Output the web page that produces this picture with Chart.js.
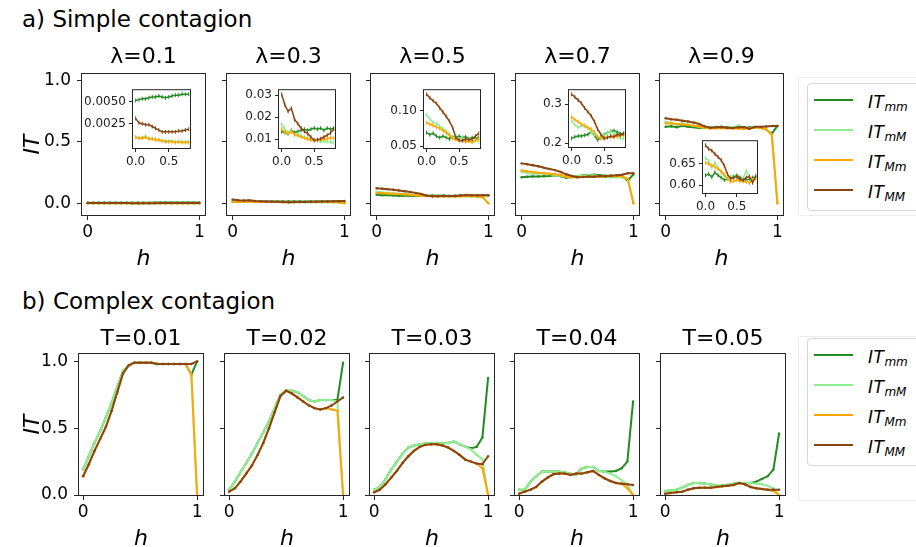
<!DOCTYPE html>
<html>
<head>
<meta charset="utf-8">
<script src="https://cdn.jsdelivr.net/npm/chart.js@4.4.1/dist/chart.umd.min.js"></script>
<style>
  body { margin: 0; width: 916px; height: 547px; overflow: hidden; position: relative; background: #fff; font-family: 'DejaVu Sans', sans-serif; color: #000; }
  canvas { position: absolute; }
  .head { position: absolute; left: 22px; font-size: 23px; line-height: 23px; white-space: nowrap; }
  .ghost { position: absolute; left: 798px; width: 140px; border: 1px solid #ededed; }
  .legend { position: absolute; left: 807px; width: 140px; height: 126px; border: 1px solid #d6d6d6; border-radius: 4px; background: #fff; }
  .sw { position: absolute; left: 6px; width: 39px; height: 2px; }
  .lab { position: absolute; left: 60px; font-size: 17px; line-height: 17px; white-space: nowrap; font-style: italic; letter-spacing: 0.5px; }
  .lab sub { font-size: 12px; vertical-align: baseline; position: relative; top: 3px; letter-spacing: 0; }
</style>
</head>
<body>
<div class="head" style="top:8px">a) Simple contagion</div>
<div class="head" style="top:290px">b) Complex contagion</div>
<script>
/* ---- data ---- */

const h = [0, 0.05, 0.1, 0.15, 0.2, 0.25, 0.3, 0.35, 0.4, 0.45, 0.5, 0.55, 0.6, 0.65, 0.7, 0.75, 0.8, 0.85, 0.9, 0.95, 1];

const seriesKeys = ['mm', 'mM', 'Mm', 'MM'];
const simpleTitles = ['λ=0.1', 'λ=0.3', 'λ=0.5', 'λ=0.7', 'λ=0.9'];
const complexTitles = ['T=0.01', 'T=0.02', 'T=0.03', 'T=0.04', 'T=0.05'];

const mainYTicks = [0, 0.5, 1];
const mainXTicks = [0, 1];
const insetXTicks = [0, 0.5];
const insetYTicks = [[0.0025, 0.005], [0.01, 0.02, 0.03], [0.05, 0.1], [0.2, 0.3], [0.6, 0.65]];
const insetYDecimals = [4, 2, 2, 1, 2];

// a) simple contagion, lambda = 0.1 ... 0.9
const a1_mm = [0.0051, 0.0052, 0.0053, 0.0053, 0.0054, 0.0055, 0.0055, 0.0056, 0.0055, 0.0054, 0.0055, 0.0056, 0.0057, 0.0057, 0.0058, 0.0058, 0.0058, 0.0058, 0.0059, 0.0059, 0.0060];
const a1_mM = [0.0010, 0.0009, 0.0010, 0.0011, 0.0009, 0.0008, 0.0008, 0.0007, 0.0006, 0.0006, 0.0006, 0.0006, 0.0005, 0.0005, 0.0005, 0.0005, 0.0005, 0.0005, 0.0004, 0.0003, 0];
const a1_Mm = [0.0010, 0.0009, 0.0009, 0.0010, 0.0008, 0.0008, 0.0007, 0.0007, 0.0006, 0.0005, 0.0005, 0.0005, 0.0004, 0.0005, 0.0004, 0.0004, 0.0004, 0.0004, 0.0004, 0.0003, 0];
const a1_MM = [0.0031, 0.0026, 0.0025, 0.0024, 0.0024, 0.0022, 0.0020, 0.0018, 0.0016, 0.0016, 0.0016, 0.0016, 0.0016, 0.0017, 0.0017, 0.0018, 0.0019, 0.0019, 0.0020, 0.0020, 0.0021];

const a2_mm = [0.0135, 0.0130, 0.0125, 0.0140, 0.0130, 0.0135, 0.0140, 0.0145, 0.0140, 0.0145, 0.0150, 0.0145, 0.0150, 0.0140, 0.0150, 0.0145, 0.0150, 0.0150, 0.0150, 0.0150, 0.0160];
const a2_mM = [0.0168, 0.0145, 0.0130, 0.0135, 0.0120, 0.0125, 0.0115, 0.0110, 0.0105, 0.0100, 0.0095, 0.0095, 0.0090, 0.0090, 0.0088, 0.0087, 0.0085, 0.0082, 0.0080, 0.0070, 0];
const a2_Mm = [0.0146, 0.0130, 0.0125, 0.0135, 0.0120, 0.0116, 0.0110, 0.0105, 0.0100, 0.0096, 0.0094, 0.0095, 0.0098, 0.0100, 0.0102, 0.0106, 0.0104, 0.0100, 0.0095, 0.0085, 0];
const a2_MM = [0.0304, 0.0255, 0.0226, 0.0240, 0.0189, 0.0170, 0.0150, 0.0135, 0.0125, 0.0110, 0.0095, 0.0098, 0.0102, 0.0110, 0.0118, 0.0128, 0.0146, 0.0155, 0.0165, 0.0175, 0.0185];

const a3_mm = [0.069, 0.066, 0.068, 0.064, 0.062, 0.064, 0.062, 0.060, 0.063, 0.062, 0.064, 0.062, 0.063, 0.060, 0.062, 0.061, 0.062, 0.062, 0.062, 0.063, 0.065];
const a3_mM = [0.094, 0.088, 0.083, 0.082, 0.078, 0.075, 0.071, 0.067, 0.063, 0.061, 0.060, 0.062, 0.058, 0.061, 0.057, 0.059, 0.056, 0.058, 0.056, 0.052, 0];
const a3_Mm = [0.083, 0.081, 0.079, 0.077, 0.075, 0.072, 0.069, 0.065, 0.061, 0.059, 0.058, 0.057, 0.056, 0.057, 0.055, 0.058, 0.060, 0.058, 0.056, 0.048, 0];
const a3_MM = [0.123, 0.118, 0.114, 0.110, 0.104, 0.098, 0.092, 0.085, 0.076, 0.062, 0.058, 0.058, 0.060, 0.059, 0.060, 0.064, 0.068, 0.066, 0.066, 0.066, 0.066];

const a4_mm = [0.212, 0.216, 0.218, 0.218, 0.220, 0.222, 0.229, 0.220, 0.208, 0.214, 0.222, 0.226, 0.230, 0.232, 0.228, 0.224, 0.225, 0.222, 0.218, 0.185, 0.235];
const a4_mM = [0.257, 0.247, 0.240, 0.245, 0.243, 0.238, 0.229, 0.222, 0.216, 0.214, 0.220, 0.225, 0.229, 0.226, 0.220, 0.212, 0.212, 0.214, 0.212, 0.195, 0];
const a4_Mm = [0.267, 0.260, 0.255, 0.248, 0.245, 0.240, 0.236, 0.228, 0.216, 0.212, 0.212, 0.216, 0.215, 0.218, 0.216, 0.220, 0.220, 0.222, 0.218, 0.200, 0];
const a4_MM = [0.325, 0.318, 0.310, 0.302, 0.290, 0.280, 0.270, 0.255, 0.236, 0.222, 0.212, 0.214, 0.218, 0.216, 0.222, 0.220, 0.224, 0.228, 0.232, 0.245, 0.245];

const a5_mm = [0.623, 0.626, 0.619, 0.630, 0.623, 0.618, 0.612, 0.615, 0.619, 0.620, 0.623, 0.618, 0.614, 0.612, 0.615, 0.618, 0.618, 0.615, 0.600, 0.565, 0.630];
const a5_mM = [0.663, 0.656, 0.641, 0.652, 0.640, 0.630, 0.620, 0.615, 0.620, 0.623, 0.618, 0.612, 0.616, 0.634, 0.620, 0.612, 0.618, 0.615, 0.600, 0.560, 0];
const a5_Mm = [0.652, 0.649, 0.646, 0.642, 0.638, 0.632, 0.625, 0.615, 0.608, 0.610, 0.612, 0.610, 0.609, 0.608, 0.605, 0.612, 0.615, 0.615, 0.600, 0.557, 0];
const a5_MM = [0.692, 0.684, 0.680, 0.672, 0.665, 0.658, 0.645, 0.626, 0.615, 0.618, 0.620, 0.614, 0.612, 0.618, 0.620, 0.606, 0.622, 0.622, 0.625, 0.628, 0.630];

// b) complex contagion, T = 0.01 ... 0.05
const b1_mm = [0.19, 0.29, 0.39, 0.48, 0.58, 0.69, 0.81, 0.93, 0.97, 0.99, 0.99, 0.99, 0.99, 0.98, 0.98, 0.98, 0.98, 0.98, 0.98, 0.90, 1.00];
const b1_mM = [0.19, 0.29, 0.39, 0.48, 0.58, 0.69, 0.81, 0.93, 0.97, 0.99, 0.99, 0.99, 0.99, 0.98, 0.98, 0.98, 0.98, 0.98, 0.98, 0.90, 0];
const b1_Mm = [0.14, 0.23, 0.33, 0.42, 0.51, 0.63, 0.77, 0.91, 0.97, 0.99, 0.99, 0.99, 0.99, 0.98, 0.98, 0.98, 0.98, 0.98, 0.98, 0.90, 0];
const b1_MM = [0.14, 0.23, 0.33, 0.42, 0.51, 0.63, 0.77, 0.91, 0.97, 0.99, 0.99, 0.99, 0.99, 0.98, 0.98, 0.98, 0.98, 0.98, 0.98, 0.98, 1.00];

const b2_mm = [0.04, 0.10, 0.17, 0.24, 0.31, 0.39, 0.47, 0.55, 0.65, 0.75, 0.78, 0.78, 0.77, 0.74, 0.71, 0.70, 0.71, 0.71, 0.71, 0.71, 0.99];
const b2_mM = [0.04, 0.10, 0.17, 0.24, 0.31, 0.39, 0.47, 0.55, 0.65, 0.75, 0.78, 0.78, 0.77, 0.74, 0.71, 0.70, 0.71, 0.71, 0.71, 0.70, 0];
const b2_Mm = [0.025, 0.05, 0.10, 0.16, 0.22, 0.30, 0.39, 0.50, 0.62, 0.74, 0.78, 0.76, 0.73, 0.70, 0.67, 0.65, 0.64, 0.65, 0.64, 0.63, 0];
const b2_MM = [0.025, 0.05, 0.10, 0.16, 0.22, 0.30, 0.39, 0.50, 0.62, 0.74, 0.78, 0.76, 0.73, 0.70, 0.67, 0.65, 0.64, 0.65, 0.67, 0.70, 0.73];

const b3_mm = [0.04, 0.06, 0.12, 0.19, 0.25, 0.31, 0.355, 0.37, 0.38, 0.385, 0.39, 0.39, 0.385, 0.39, 0.40, 0.38, 0.36, 0.35, 0.36, 0.43, 0.875];
const b3_mM = [0.04, 0.06, 0.12, 0.19, 0.25, 0.31, 0.355, 0.37, 0.38, 0.385, 0.39, 0.39, 0.385, 0.39, 0.40, 0.38, 0.36, 0.34, 0.30, 0.27, 0];
const b3_Mm = [0.02, 0.04, 0.08, 0.13, 0.18, 0.24, 0.29, 0.33, 0.36, 0.375, 0.38, 0.38, 0.37, 0.355, 0.33, 0.30, 0.265, 0.25, 0.235, 0.20, 0];
const b3_MM = [0.02, 0.04, 0.08, 0.13, 0.18, 0.24, 0.29, 0.33, 0.36, 0.375, 0.38, 0.38, 0.37, 0.355, 0.33, 0.30, 0.265, 0.25, 0.235, 0.23, 0.29];

const b4_mm = [0.04, 0.04, 0.10, 0.14, 0.175, 0.175, 0.175, 0.175, 0.17, 0.16, 0.15, 0.20, 0.21, 0.21, 0.18, 0.175, 0.175, 0.18, 0.20, 0.25, 0.70];
const b4_mM = [0.04, 0.04, 0.10, 0.14, 0.175, 0.175, 0.175, 0.175, 0.17, 0.16, 0.15, 0.20, 0.21, 0.21, 0.18, 0.175, 0.16, 0.14, 0.11, 0.08, 0];
const b4_Mm = [0.01, 0.025, 0.04, 0.06, 0.10, 0.13, 0.155, 0.16, 0.16, 0.15, 0.16, 0.16, 0.17, 0.18, 0.15, 0.125, 0.105, 0.09, 0.085, 0.05, 0];
const b4_MM = [0.01, 0.025, 0.04, 0.06, 0.10, 0.13, 0.155, 0.16, 0.16, 0.15, 0.16, 0.16, 0.17, 0.18, 0.15, 0.125, 0.105, 0.09, 0.085, 0.08, 0.075];

const b5_mm = [0.03, 0.035, 0.04, 0.055, 0.075, 0.09, 0.09, 0.085, 0.08, 0.07, 0.07, 0.075, 0.085, 0.09, 0.09, 0.09, 0.10, 0.12, 0.14, 0.19, 0.46];
const b5_mM = [0.03, 0.035, 0.04, 0.055, 0.075, 0.09, 0.09, 0.085, 0.08, 0.07, 0.07, 0.075, 0.085, 0.09, 0.09, 0.09, 0.085, 0.08, 0.07, 0.05, 0];
const b5_Mm = [0.01, 0.015, 0.02, 0.025, 0.04, 0.05, 0.055, 0.055, 0.055, 0.06, 0.065, 0.07, 0.075, 0.09, 0.08, 0.06, 0.05, 0.045, 0.04, 0.03, 0];
const b5_MM = [0.01, 0.015, 0.02, 0.025, 0.04, 0.05, 0.055, 0.055, 0.055, 0.06, 0.065, 0.07, 0.075, 0.09, 0.08, 0.06, 0.05, 0.045, 0.04, 0.04, 0.04];

const simpleSeries = [
    [a1_mm, a1_mM, a1_Mm, a1_MM],
    [a2_mm, a2_mM, a2_Mm, a2_MM],
    [a3_mm, a3_mM, a3_Mm, a3_MM],
    [a4_mm, a4_mM, a4_Mm, a4_MM],
    [a5_mm, a5_mM, a5_Mm, a5_MM]
];
const complexSeries = [
    [b1_mm, b1_mM, b1_Mm, b1_MM],
    [b2_mm, b2_mM, b2_Mm, b2_MM],
    [b3_mm, b3_mM, b3_Mm, b3_MM],
    [b4_mm, b4_mM, b4_Mm, b4_MM],
    [b5_mm, b5_mM, b5_Mm, b5_MM]
];

/* ---- layout / style ---- */

const seriesColors = ['#228B22', '#90EE90', '#FFA500', '#8B4513'];

const rowA = { lefts: [82, 227, 371, 516, 660], top: 74, width: 123, height: 141, xmin: -0.05, xmax: 1.05, ymin: -0.095, ymax: 1.052, titleTop: 0.3, titles: simpleTitles, series: simpleSeries };
const rowB = { lefts: [79, 225, 370, 515, 661], top: 354, width: 124, height: 141, xmin: -0.036, xmax: 1.052, ymin: 0, ymax: 1.055, titleTop: 1.8, titles: complexTitles, series: complexSeries };

const insetBoxes = [
    { left: 133, top: 88, w: 58, h: 60, ymin: -0.0002, ymax: 0.00625 },
    { left: 279, top: 88, w: 57, h: 60, ymin: 0.006, ymax: 0.0322 },
    { left: 424, top: 88, w: 57, h: 60, ymin: 0.0473, ymax: 0.1288 },
    { left: 569, top: 88, w: 57, h: 59, ymin: 0.19, ymax: 0.3355 },
    { left: 703, top: 139, w: 55, h: 54, ymin: 0.5824, ymax: 0.7015 }
];
const insetCount = 17; // h = 0 ... 0.8

Chart.defaults.font.family = "'DejaVu Sans', sans-serif";
Chart.defaults.color = '#000';

/* frame round the plot area, optional white fill (insets) */
const framePlugin = {
    id: 'frame',
    beforeDraw(chart, args, opts) {
        if (!opts.fill) return;
        const a = chart.chartArea, c = chart.ctx;
        c.save();
        c.fillStyle = opts.fill;
        c.fillRect(a.left, a.top, a.right - a.left, a.bottom - a.top);
        c.restore();
    },
    afterDraw(chart) {
        const a = chart.chartArea, c = chart.ctx;
        c.save();
        c.strokeStyle = '#262626';
        c.lineWidth = 1;
        c.strokeRect(a.left - 0.5, a.top - 0.5, a.right - a.left + 1, a.bottom - a.top + 1);
        c.restore();
    }
};
Chart.register(framePlugin);

function addCanvas(left, top, w, hgt) {
    const cv = document.createElement('canvas');
    cv.width = w;
    cv.height = hgt;
    cv.style.left = left + 'px';
    cv.style.top = top + 'px';
    cv.style.width = w + 'px';
    cv.style.height = hgt + 'px';
    document.body.appendChild(cv);
    return cv;
}

function makeDatasets(series, xs, inset) {
    return series.map(function (vals, k) {
        return {
            data: xs.map(function (x, j) { return { x: x, y: vals[j] }; }),
            borderColor: seriesColors[k],
            backgroundColor: seriesColors[k],
            borderWidth: inset ? 1.5 : 2,
            pointStyle: inset ? 'line' : 'circle',
            rotation: inset ? 90 : 0,
            pointRadius: inset ? 2 : 1.2,
            pointBorderWidth: inset ? 1 : 0,
            pointBorderColor: seriesColors[k],
            order: 3 - k,
            tension: 0
        };
    });
}

function mainPanel(row, i) {
    const bx = row.lefts[i], by = row.top;
    const first = i === 0;
    const yw = first ? bx - 20 : 8;
    const xh = 57;
    const cv = addCanvas(bx - yw, by - 30, yw + row.width + 8, 30 + row.height + xh);
    new Chart(cv, {
        type: 'line',
        data: { datasets: makeDatasets(row.series[i], h, false) },
        options: {
            responsive: false,
            animation: false,
            devicePixelRatio: 1,
            layout: { padding: { left: 0, top: 0, right: 8, bottom: 0 } },
            plugins: {
                legend: { display: false },
                tooltip: { enabled: false },
                title: {
                    display: true, text: row.titles[i], fullSize: false, color: '#000',
                    font: { size: 22, weight: 'normal' },
                    padding: { top: row.titleTop, bottom: 30 - 26.4 - row.titleTop }
                },
                frame: {}
            },
            scales: {
                x: {
                    type: 'linear', min: row.xmin, max: row.xmax,
                    afterBuildTicks: function (ax) { ax.ticks = mainXTicks.map(function (v) { return { value: v }; }); },
                    afterFit: function (ax) { ax.height = xh; },
                    ticks: { font: { size: 17 }, color: '#000', padding: 2.5, maxRotation: 0, callback: function (v) { return String(v); } },
                    grid: { drawOnChartArea: false, tickLength: 5, color: '#262626' },
                    border: { display: false },
                    title: { display: true, text: 'h', color: '#000', font: { size: 22, style: 'italic' }, padding: { top: 0, bottom: 0 } }
                },
                y: {
                    type: 'linear', min: row.ymin, max: row.ymax,
                    afterBuildTicks: function (ax) { ax.ticks = mainYTicks.map(function (v) { return { value: v }; }); },
                    afterFit: function (ax) { ax.width = yw; },
                    ticks: { display: first, font: { size: 17 }, color: '#000', padding: 6, callback: function (v) { return v.toFixed(1); } },
                    grid: { drawOnChartArea: false, tickLength: 5, color: '#262626' },
                    border: { display: false },
                    title: { display: first, text: 'IT', color: '#000', font: { size: 22, style: 'italic' }, padding: { top: 0, bottom: 0 } }
                }
            }
        }
    });
}

function insetPanel(i) {
    const b = insetBoxes[i];
    const yw = 48, xh = 22, top = 8;
    const cv = addCanvas(b.left - yw, b.top - top, yw + b.w + 4, top + b.h + xh);
    const xs = h.slice(0, insetCount);
    new Chart(cv, {
        type: 'line',
        data: { datasets: makeDatasets(simpleSeries[i], xs, true) },
        options: {
            responsive: false,
            animation: false,
            devicePixelRatio: 1,
            layout: { padding: { left: 0, top: top, right: 4, bottom: 0 } },
            plugins: { legend: { display: false }, tooltip: { enabled: false }, frame: { fill: '#fff' } },
            scales: {
                x: {
                    type: 'linear', min: -0.04, max: 0.82,
                    afterBuildTicks: function (ax) { ax.ticks = insetXTicks.map(function (v) { return { value: v }; }); },
                    afterFit: function (ax) { ax.height = xh; },
                    ticks: { font: { size: 12 }, color: '#222', padding: 2.5, maxRotation: 0, callback: function (v) { return v.toFixed(1); } },
                    grid: { drawOnChartArea: false, tickLength: 4, color: '#262626' },
                    border: { display: false }
                },
                y: {
                    type: 'linear', min: b.ymin, max: b.ymax,
                    afterBuildTicks: function (ax) { ax.ticks = insetYTicks[i].map(function (v) { return { value: v }; }); },
                    afterFit: function (ax) { ax.width = yw; },
                    ticks: { font: { size: 12 }, color: '#222', padding: 3, callback: function (v) { return v.toFixed(insetYDecimals[i]); } },
                    grid: { drawOnChartArea: false, tickLength: 4, color: '#262626' },
                    border: { display: false }
                }
            }
        }
    });
}

function legendBox(top, ghostTop, ghostHeight) {
    const g = document.createElement('div');
    g.className = 'ghost';
    g.style.top = ghostTop + 'px';
    g.style.height = ghostHeight + 'px';
    document.body.appendChild(g);
    const box = document.createElement('div');
    box.className = 'legend';
    box.style.top = top + 'px';
    seriesKeys.forEach(function (key, k) {
        const y = 16 + 30 * k;
        const sw = document.createElement('div');
        sw.className = 'sw';
        sw.style.top = (y - 1) + 'px';
        sw.style.background = seriesColors[k];
        box.appendChild(sw);
        const lab = document.createElement('div');
        lab.className = 'lab';
        lab.style.top = (y - 6) + 'px';
        lab.innerHTML = 'IT<sub>' + key + '</sub>';
        box.appendChild(lab);
    });
    document.body.appendChild(box);
}

for (let i = 0; i < 5; i++) mainPanel(rowA, i);
for (let i = 0; i < 5; i++) mainPanel(rowB, i);
for (let i = 0; i < 5; i++) insetPanel(i);
legendBox(83, 77, 137);
legendBox(338, 336, 163);
</script>
</body>
</html>
